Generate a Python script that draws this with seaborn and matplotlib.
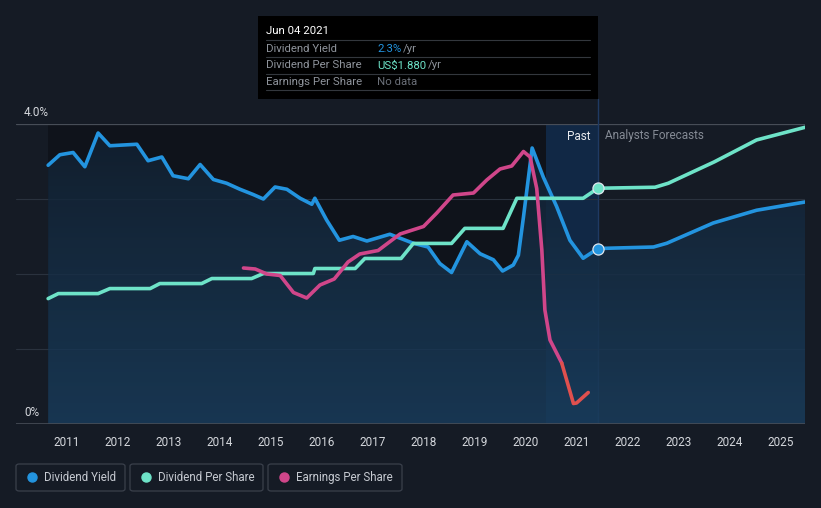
import numpy as np
import pandas as pd
import matplotlib
matplotlib.use("Agg")
import matplotlib.pyplot as plt
import seaborn as sns
from matplotlib.patches import FancyBboxPatch, Rectangle
from matplotlib.lines import Line2D

# ---------------- data ----------------
yield_years = [2010.64, 2010.87, 2011.13, 2011.36, 2011.62, 2011.85, 2012.38, 2012.60, 2012.87,
               2013.09, 2013.39, 2013.62, 2013.88, 2014.14, 2014.40, 2014.66, 2014.86, 2015.09,
               2015.32, 2015.58, 2015.81, 2015.87, 2016.10, 2016.35, 2016.62, 2016.89, 2017.34,
               2017.80, 2018.09, 2018.32, 2018.55, 2018.85, 2019.11, 2019.37, 2019.55, 2019.76,
               2019.86, 2019.96, 2020.13, 2020.35, 2020.61, 2020.87, 2021.13, 2021.42]
yield_pct = [3.45, 3.59, 3.62, 3.43, 3.88, 3.71, 3.73, 3.51, 3.56,
             3.31, 3.27, 3.46, 3.26, 3.21, 3.13, 3.06, 3.00, 3.16,
             3.13, 3.01, 2.93, 3.01, 2.72, 2.45, 2.50, 2.44, 2.53,
             2.41, 2.36, 2.14, 2.02, 2.43, 2.27, 2.19, 2.04, 2.12,
             2.25, 2.76, 3.68, 3.29, 2.90, 2.45, 2.21, 2.34]
yield_fc_years = [2021.42, 2022.51, 2022.77, 2023.68, 2024.53, 2025.48]
yield_fc_pct = [2.34, 2.36, 2.41, 2.68, 2.85, 2.96]

dps_years = [2010.64, 2010.84, 2011.62, 2011.85, 2012.64, 2012.83, 2013.65, 2013.85, 2014.63,
             2014.86, 2015.84, 2015.87, 2016.66, 2016.85, 2017.56, 2017.80, 2018.55, 2018.81,
             2019.56, 2019.83, 2021.13, 2021.42]
dps_usd = [1.00, 1.04, 1.04, 1.08, 1.08, 1.12, 1.12, 1.16, 1.16,
           1.20, 1.20, 1.24, 1.24, 1.32, 1.32, 1.44, 1.44, 1.56,
           1.56, 1.80, 1.80, 1.88]
dps_fc_years = [2021.42, 2022.54, 2022.80, 2023.70, 2024.53, 2025.48]
dps_fc_usd = [1.88, 1.888, 1.92, 2.09, 2.265, 2.366]

eps_years = [2014.47, 2014.70, 2014.93, 2015.19, 2015.45, 2015.71, 2015.97, 2016.25, 2016.52,
             2016.75, 2017.11, 2017.54, 2018.00, 2018.26, 2018.58, 2018.98, 2019.24, 2019.50,
             2019.73, 2019.96, 2020.09, 2020.22, 2020.32, 2020.38, 2020.48, 2020.71, 2020.94,
             2021.00, 2021.23]
eps_usd = [3.12, 3.10, 3.00, 2.97, 2.63, 2.52, 2.78, 2.90, 3.24,
           3.40, 3.47, 3.80, 3.95, 4.22, 4.58, 4.62, 4.88, 5.10,
           5.16, 5.45, 5.34, 4.71, 3.48, 2.28, 1.68, 1.22, 0.41,
           0.42, 0.63]

year_ticks = list(range(2011, 2026))
tooltip_date = "Jun 04 2021"
tooltip_rows = [("Dividend Yield", "2.3%", "#2394df"),
                ("Dividend Per Share", "US$1.880", "#6ee3c8"),
                ("Earnings Per Share", "No data", "#6b7079")]
legend_labels = ["Dividend Yield", "Dividend Per Share", "Earnings Per Share"]

# ---------------- style ----------------
W, H = 821, 508
BG = "#151b25"
BLUE = "#2394df"
TEAL = "#6ee3c8"
PINK = "#d0468a"
RED = "#e0504e"
sns.set_theme(style="dark")
plt.rcParams["font.family"] = ["Roboto", "DejaVu Sans"]

fig = plt.figure(figsize=(W / 100, H / 100), dpi=100, facecolor=BG)


def fx(x):
    return x / W


def fy(y):
    return 1 - y / H


ax = fig.add_axes([fx(16), fy(424), (805 - 16) / W, 300 / H])
ax.set_facecolor(BG)
x0, x1 = 2010.01, 2025.48
ax.set_xlim(x0, x1)
ax.set_ylim(0, 4.0)
for s in ax.spines.values():
    s.set_visible(False)

# grid
for g in [1, 2, 3]:
    ax.axhline(g, color="#2a323e", lw=0.8, zorder=0.5)
ax.axhline(4.0, color="#474d57", lw=0.9, zorder=0.5)
ax.axhline(0, color="#474d57", lw=1.2, zorder=5)

now = 2021.42
band_start = 2020.40
# darker past region
ax.axvspan(yield_years[0], band_start, color="#0b0e13", alpha=0.55, zorder=0.2, lw=0)
# past highlight band
ax.axvspan(band_start, now, color="#0f3361", alpha=0.55, zorder=0.3, lw=0)

# gradient fill under yield curve
all_x = yield_years + yield_fc_years[1:]
all_y = yield_pct + yield_fc_pct[1:]
poly = ax.fill_between(all_x, all_y, 0, color="none", lw=0, zorder=1)
grad = np.linspace(1, 0, 256).reshape(-1, 1)
cmap = matplotlib.colors.LinearSegmentedColormap.from_list("g", ["#122030", "#1a3d5c"])
im = ax.imshow(1 - grad, extent=[x0, x1, 0, 4.0], aspect="auto", cmap=cmap,
               origin="upper", zorder=1, alpha=0.85)
im.set_clip_path(poly.get_paths()[0], transform=ax.transData)

# lines
ax2 = ax.twinx()
ax2.set_position(ax.get_position())
ax2.set_ylim(0, 300 / 125.4)
ax2.axis("off")
ax3 = ax.twinx()
ax3.set_position(ax.get_position())
ax3.set_ylim(0, 6.0)
ax3.axis("off")

lw = 2.6
sns.lineplot(x=yield_years, y=yield_pct, ax=ax, color=BLUE, lw=lw, zorder=4,
             solid_joinstyle="round", solid_capstyle="round")
sns.lineplot(x=yield_fc_years, y=yield_fc_pct, ax=ax, color=BLUE, lw=lw, zorder=4,
             solid_joinstyle="round", solid_capstyle="round")
sns.lineplot(x=dps_years, y=dps_usd, ax=ax2, color=TEAL, lw=lw, zorder=4,
             solid_joinstyle="round", solid_capstyle="round")
sns.lineplot(x=dps_fc_years, y=dps_fc_usd, ax=ax2, color=TEAL, lw=lw, zorder=4,
             solid_joinstyle="round", solid_capstyle="round")
split = eps_years.index(2020.71)
sns.lineplot(x=eps_years[:split + 1], y=eps_usd[:split + 1], ax=ax3, color=PINK, lw=lw,
             zorder=4, solid_joinstyle="round", solid_capstyle="round", sort=False)
sns.lineplot(x=eps_years[split:], y=eps_usd[split:], ax=ax3, color=RED, lw=lw,
             zorder=4, solid_joinstyle="round", solid_capstyle="round", sort=False)

ax.plot([now], [yield_pct[-1]], marker="o", markersize=8, mfc=BLUE, mec="#dfe6ee",
        mew=0.9, lw=0, zorder=8, clip_on=False)
ax2.plot([now], [dps_usd[-1]], marker="o", markersize=8, mfc=TEAL, mec="#dfe6ee",
         mew=0.9, lw=0, zorder=8, clip_on=False)
for a in (ax, ax2, ax3):
    a.set_xlim(x0, x1)

# ticks
ax.set_xticks(year_ticks)
ax.set_xticklabels([str(y) for y in year_ticks], color="#d4d7dc", fontsize=8.5)
ax.tick_params(axis="x", length=4, color="#474d57", pad=5, width=1)
ax.set_yticks([])
ax.set_xlabel("")
ax.set_ylabel("")

# y labels
fig.text(fx(24), fy(112), "4.0%", color="#d4d7dc", fontsize=8.5, va="center", ha="left")
fig.text(fx(24), fy(412), "0%", color="#d4d7dc", fontsize=8.5, va="center", ha="left")

# past / forecast labels
fig.text(fx(590), fy(136), "Past", color="#e8eaee", fontsize=8.5, va="center", ha="right")
fig.text(fx(605), fy(136), "Analysts Forecasts", color="#858b95", fontsize=8.5,
         va="center", ha="left")

# vertical now line (behind the markers)
ax.axvline(now, color="#1f3a63", lw=1.0, zorder=0.6)
fig.add_artist(Line2D([fx(598), fx(598)], [fy(99), fy(124)], color="#1f3a63", lw=1.0))

# tooltip
fig.add_artist(Rectangle((fx(258), fy(99)), (598 - 258) / W, (99 - 16) / H,
                         facecolor="#000000", edgecolor="none", zorder=10))
fig.text(fx(266), fy(31), tooltip_date, color="#ffffff", fontsize=8.2, va="center",
         ha="left", zorder=11)
for yy in [40, 57, 74, 90]:
    fig.add_artist(Line2D([fx(266), fx(590)], [fy(yy), fy(yy)], color="#33373d", lw=0.8,
                          zorder=11))
row_y = [48.5, 65.5, 82]
suffix_x = [403, 428, None]
for (lab, val, col), yy, sx in zip(tooltip_rows, row_y, suffix_x):
    fig.text(fx(266), fy(yy), lab, color="#8e939b", fontsize=8.2, va="center", ha="left",
             zorder=11)
    fig.text(fx(377), fy(yy), val, color=col, fontsize=8.2, va="center", ha="left", zorder=11)
    if sx:
        fig.text(fx(sx), fy(yy), "/yr", color="#8e939b", fontsize=8.2, va="center",
                 ha="left", zorder=11)

# legend boxes
boxes = [(16, 125), (130, 263), (268, 402)]
colors = [BLUE, TEAL, PINK]
for (bx0, bx1), lab, col in zip(boxes, legend_labels, colors):
    fig.add_artist(FancyBboxPatch((fx(bx0), fy(491)), (bx1 - bx0) / W, 27 / H,
                                  boxstyle="round,pad=0,rounding_size=0.004",
                                  facecolor="none", edgecolor="#3a404b", lw=0.9))
    fig.add_artist(Line2D([fx(bx0 + 16)], [fy(477)], marker="o", markersize=6.5,
                          color=col, lw=0))
    fig.text(fx(bx0 + 28), fy(477.5), lab, color="#c6cad1", fontsize=8.3, va="center",
             ha="left")

fig.savefig("out.png", dpi=100, facecolor=BG)
